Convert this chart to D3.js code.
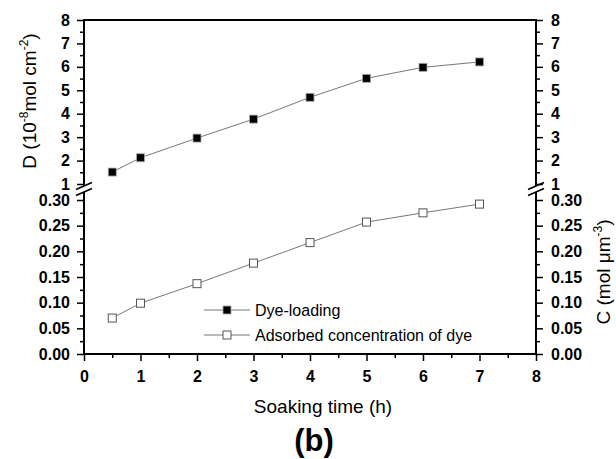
<!DOCTYPE html>
<html>
<head>
<meta charset="utf-8">
<script src="https://cdn.jsdelivr.net/npm/d3@7"></script>
<style>
  body { margin: 0; background: #fff; }
  svg { font-family: "Liberation Sans", Arial, sans-serif; }
  .tick text { font-weight: bold; font-size: 16px; fill: #000; }
  .tick line { stroke: #000; stroke-width: 1.5; }
</style>
</head>
<body>
<svg width="616" height="459"></svg>
<script>
var svg = d3.select("svg");

// data
var hours = [0.5, 1, 2, 3, 4, 5, 6, 7];
var dyeLoading = [1.51, 2.12, 2.96, 3.77, 4.70, 5.51, 5.98, 6.21];
var adsorbedConc = [0.070, 0.099, 0.137, 0.177, 0.217, 0.257, 0.275, 0.292];
var legendLabels = ["Dye-loading", "Adsorbed concentration of dye"];
var xTicks = [0, 1, 2, 3, 4, 5, 6, 7, 8];
var topTicks = [1, 2, 3, 4, 5, 6, 7, 8];
var botTicks = [0, 0.05, 0.10, 0.15, 0.20, 0.25, 0.30];

var x = d3.scaleLinear().domain([0, 8]).range([84, 536]);
var yTop = d3.scaleLinear().domain([1, 8]).range([184, 20]);
var yBot = d3.scaleLinear().domain([0, 0.3]).range([354, 200]);

var halfSteps = function(a, b, step) {
  return d3.range(a, b + 1e-9, step).filter(function(v) {
    return Math.abs(v / (step * 2) - Math.round(v / (step * 2))) > 1e-6;
  });
};

// ---- axes ----
function addAxis(axis, tx, ty) {
  var g = svg.append("g")
      .attr("transform", "translate(" + tx + "," + ty + ")")
      .call(axis);
  g.select(".domain").remove();
  return g;
}

// x axis, major + minor
addAxis(d3.axisBottom(x).tickValues(xTicks).tickSize(7).tickPadding(10).tickFormat(d3.format("d")), 0, 354);
addAxis(d3.axisBottom(x).tickValues(halfSteps(0, 8, 0.5)).tickSize(4).tickFormat(""), 0, 354);

// left axes
addAxis(d3.axisLeft(yTop).tickValues(topTicks).tickSize(7).tickPadding(7).tickFormat(d3.format("d")), 84, 0);
addAxis(d3.axisLeft(yTop).tickValues(halfSteps(1, 8, 0.5)).tickSize(4).tickFormat(""), 84, 0);
addAxis(d3.axisLeft(yBot).tickValues(botTicks).tickSize(7).tickPadding(7).tickFormat(d3.format(".2f")), 84, 0);
addAxis(d3.axisLeft(yBot).tickValues(halfSteps(0, 0.3, 0.025)).tickSize(4).tickFormat(""), 84, 0);

// right axes
addAxis(d3.axisRight(yTop).tickValues(topTicks).tickSize(7).tickPadding(8).tickFormat(d3.format("d")), 536, 0);
addAxis(d3.axisRight(yTop).tickValues(halfSteps(1, 8, 0.5)).tickSize(4).tickFormat(""), 536, 0);
addAxis(d3.axisRight(yBot).tickValues(botTicks).tickSize(7).tickPadding(8).tickFormat(d3.format(".2f")), 536, 0);
addAxis(d3.axisRight(yBot).tickValues(halfSteps(0, 0.3, 0.025)).tickSize(4).tickFormat(""), 536, 0);

// frame lines with break
var brkA = yTop(1) + 2, brkB = yBot(0.3) - 8;
var frame = svg.append("g").attr("stroke", "#000").attr("stroke-width", 2).attr("fill", "none");
frame.append("line").attr("x1", x(0)).attr("x2", x(8)).attr("y1", yTop(8)).attr("y2", yTop(8));
frame.append("line").attr("x1", x(0) - 1).attr("x2", x(8) + 1).attr("y1", yBot(0)).attr("y2", yBot(0));
[x(0), x(8)].forEach(function(xx) {
  frame.append("line").attr("x1", xx).attr("x2", xx).attr("y1", yTop(8) - 1).attr("y2", brkA);
  frame.append("line").attr("x1", xx).attr("x2", xx).attr("y1", brkB).attr("y2", yBot(0));
  [brkA, brkB].forEach(function(yy) {
    frame.append("line")
        .attr("stroke-width", 1.5)
        .attr("x1", xx - 8).attr("y1", yy + 3.5)
        .attr("x2", xx + 8).attr("y2", yy - 3.5);
  });
});

// ---- series ----
var lineTop = d3.line().x(function(d, i) { return x(hours[i]); }).y(function(d) { return yTop(d); });
var lineBot = d3.line().x(function(d, i) { return x(hours[i]); }).y(function(d) { return yBot(d); });

svg.append("path").datum(dyeLoading).attr("d", lineTop)
    .attr("fill", "none").attr("stroke", "#777").attr("stroke-width", 1);
svg.append("path").datum(adsorbedConc).attr("d", lineBot)
    .attr("fill", "none").attr("stroke", "#777").attr("stroke-width", 1);

var ms = 8;
svg.append("g").selectAll("rect").data(dyeLoading).enter().append("rect")
    .attr("x", function(d, i) { return x(hours[i]) - ms / 2; })
    .attr("y", function(d) { return yTop(d) - ms / 2; })
    .attr("width", ms).attr("height", ms)
    .attr("fill", "#000").attr("stroke", "#aaa").attr("stroke-width", 0.8);
svg.append("g").selectAll("rect").data(adsorbedConc).enter().append("rect")
    .attr("x", function(d, i) { return x(hours[i]) - ms / 2; })
    .attr("y", function(d) { return yBot(d) - ms / 2; })
    .attr("width", ms).attr("height", ms)
    .attr("fill", "#fff").attr("stroke", "#555").attr("stroke-width", 1);

// ---- legend ----
var leg = svg.append("g").attr("transform", "translate(204,310)");
legendLabels.forEach(function(lab, i) {
  var row = leg.append("g").attr("transform", "translate(0," + (i * 25) + ")");
  row.append("line").attr("x1", 0).attr("x2", 46).attr("y1", 0).attr("y2", 0)
      .attr("stroke", "#777").attr("stroke-width", 1);
  row.append("rect").attr("x", 23 - 4).attr("y", -4).attr("width", 8).attr("height", 8)
      .attr("fill", i === 0 ? "#000" : "#fff")
      .attr("stroke", i === 0 ? "#aaa" : "#555")
      .attr("stroke-width", i === 0 ? 0.8 : 1);
  row.append("text").attr("x", 51).attr("y", 6)
      .attr("font-size", 16).attr("fill", "#000").text(lab);
});

// ---- titles ----
svg.append("text").attr("x", 323).attr("y", 413)
    .attr("text-anchor", "middle").attr("font-size", 19).text("Soaking time (h)");

svg.append("text").attr("x", 314).attr("y", 451)
    .attr("text-anchor", "middle").attr("font-size", 31).attr("font-weight", "bold").text("(b)");

var lt = svg.append("text")
    .attr("transform", "translate(36,101) rotate(-90)")
    .attr("text-anchor", "middle").attr("font-size", 19);
lt.append("tspan").text("D (10");
lt.append("tspan").attr("font-size", 12).attr("dy", -8).text("-8");
lt.append("tspan").attr("dy", 8).text("mol cm");
lt.append("tspan").attr("font-size", 12).attr("dy", -8).text("-2");
lt.append("tspan").attr("dy", 8).text(")");

var rt = svg.append("text")
    .attr("transform", "translate(610,272) rotate(-90)")
    .attr("text-anchor", "middle").attr("font-size", 19);
rt.append("tspan").text("C (mol \u03bcm");
rt.append("tspan").attr("font-size", 12).attr("dy", -8).text("-3");
rt.append("tspan").attr("dy", 8).text(")");
</script>
</body>
</html>
